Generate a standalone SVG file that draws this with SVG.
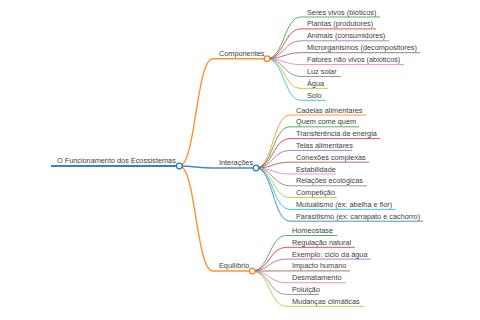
<svg xmlns="http://www.w3.org/2000/svg" width="480" height="320" viewBox="0 0 480 320">
<style>
text{font-family:"Liberation Sans",Arial,sans-serif;font-size:7.3px;fill:#404040}
path,line{fill:none}
.l0{stroke-width:1.8;stroke-opacity:.9}
.l1{stroke-width:1.4;stroke-opacity:.85}
.l2{stroke-width:1;stroke-opacity:.8}
circle{fill:#fff;stroke-width:1.2}
.c0{stroke:#1f77b4}.c1{stroke:#ff7f0e}.c2{stroke:#2ca02c}.c3{stroke:#d62728}.c4{stroke:#9467bd}
.c5{stroke:#8c564b}.c6{stroke:#e377c2}.c7{stroke:#7f7f7f}.c8{stroke:#bcbd22}.c9{stroke:#17becf}
</style>
<rect width="480" height="320" fill="#fff"/>
<g id="connectors">
<path class="l1 c1" d="M179.3,166 C196,166 196,58.7 213,58.7"/>
<path class="l1 c0" d="M179.3,166 C196,166 196,168 213,168"/>
<path class="l1 c1" d="M179.3,166 C196,166 196,271 213,271"/>
<path class="l2 c2" d="M267,58.7 C284,58.7 284,17 301,17"/>
<path class="l2 c3" d="M267,58.7 C284,58.7 284,28.9 301,28.9"/>
<path class="l2 c4" d="M267,58.7 C284,58.7 284,40.8 301,40.8"/>
<path class="l2 c5" d="M267,58.7 C284,58.7 284,52.7 301,52.7"/>
<path class="l2 c6" d="M267,58.7 C284,58.7 284,64.6 301,64.6"/>
<path class="l2 c7" d="M267,58.7 C284,58.7 284,76.5 301,76.5"/>
<path class="l2 c8" d="M267,58.7 C284,58.7 284,88.4 301,88.4"/>
<path class="l2 c9" d="M267,58.7 C284,58.7 284,100.3 301,100.3"/>
<path class="l2 c1" d="M256,168 C273,168 273,115 290,115"/>
<path class="l2 c2" d="M256,168 C273,168 273,126.8 290,126.8"/>
<path class="l2 c3" d="M256,168 C273,168 273,138.6 290,138.6"/>
<path class="l2 c4" d="M256,168 C273,168 273,150.4 290,150.4"/>
<path class="l2 c5" d="M256,168 C273,168 273,162.2 290,162.2"/>
<path class="l2 c6" d="M256,168 C273,168 273,174 290,174"/>
<path class="l2 c7" d="M256,168 C273,168 273,185.8 290,185.8"/>
<path class="l2 c8" d="M256,168 C273,168 273,197.6 290,197.6"/>
<path class="l2 c9" d="M256,168 C273,168 273,209.4 290,209.4"/>
<path class="l2 c0" d="M256,168 C273,168 273,221.2 290,221.2"/>
<path class="l2 c2" d="M252.3,271 C269.3,271 269.3,235.5 286.3,235.5"/>
<path class="l2 c3" d="M252.3,271 C269.3,271 269.3,247.3 286.3,247.3"/>
<path class="l2 c4" d="M252.3,271 C269.3,271 269.3,259.1 286.3,259.1"/>
<path class="l2 c5" d="M252.3,271 C269.3,271 269.3,270.9 286.3,270.9"/>
<path class="l2 c6" d="M252.3,271 C269.3,271 269.3,282.7 286.3,282.7"/>
<path class="l2 c7" d="M252.3,271 C269.3,271 269.3,294.5 286.3,294.5"/>
<path class="l2 c8" d="M252.3,271 C269.3,271 269.3,306.3 286.3,306.3"/>
</g>
<g id="root"><line class="l0 c0" x1="51" y1="166" x2="176.5" y2="166"/><circle class="c0" cx="179.3" cy="166" r="2.8"/><text x="57" y="163">O Funcionamento dos Ecossistemas</text></g>
<g id="componentes"><line class="l1 c1" x1="213" y1="58.7" x2="264.2" y2="58.7"/><circle class="c1" cx="267" cy="58.7" r="2.8"/><text x="219" y="56">Componentes</text></g>
<g id="interacoes"><line class="l1 c0" x1="213" y1="168" x2="253.2" y2="168"/><circle class="c0" cx="256" cy="168" r="2.8"/><text x="219" y="165.3">Interações</text></g>
<g id="equilibrio"><line class="l1 c1" x1="213" y1="271" x2="249.5" y2="271"/><circle class="c1" cx="252.3" cy="271" r="2.8"/><text x="219" y="268.3">Equilíbrio</text></g>
<g id="c-1"><line class="l2 c2" x1="301" y1="17" x2="380" y2="17"/><text x="307" y="14.5">Seres vivos (bióticos)</text></g>
<g id="c-2"><line class="l2 c3" x1="301" y1="28.9" x2="376" y2="28.9"/><text x="307" y="26.4">Plantas (produtores)</text></g>
<g id="c-3"><line class="l2 c4" x1="301" y1="40.8" x2="389" y2="40.8"/><text x="307" y="38.3">Animais (consumidores)</text></g>
<g id="c-4"><line class="l2 c5" x1="301" y1="52.7" x2="420" y2="52.7"/><text x="307" y="50.2">Microrganismos (decompositores)</text></g>
<g id="c-5"><line class="l2 c6" x1="301" y1="64.6" x2="404" y2="64.6"/><text x="307" y="62.1">Fatores não vivos (abióticos)</text></g>
<g id="c-6"><line class="l2 c7" x1="301" y1="76.5" x2="341" y2="76.5"/><text x="307" y="74">Luz solar</text></g>
<g id="c-7"><line class="l2 c8" x1="301" y1="88.4" x2="328" y2="88.4"/><text x="307" y="85.9">Água</text></g>
<g id="c-8"><line class="l2 c9" x1="301" y1="100.3" x2="326" y2="100.3"/><text x="307" y="97.8">Solo</text></g>
<g id="i-1"><line class="l2 c1" x1="290" y1="115" x2="366" y2="115"/><text x="296" y="112.5">Cadeias alimentares</text></g>
<g id="i-2"><line class="l2 c2" x1="290" y1="126.8" x2="359" y2="126.8"/><text x="296" y="124.3">Quem come quem</text></g>
<g id="i-3"><line class="l2 c3" x1="290" y1="138.6" x2="380" y2="138.6"/><text x="296" y="136.1">Transferência de energia</text></g>
<g id="i-4"><line class="l2 c4" x1="290" y1="150.4" x2="352" y2="150.4"/><text x="296" y="147.9">Teias alimentares</text></g>
<g id="i-5"><line class="l2 c5" x1="290" y1="162.2" x2="369" y2="162.2"/><text x="296" y="159.7">Conexões complexas</text></g>
<g id="i-6"><line class="l2 c6" x1="290" y1="174" x2="336" y2="174"/><text x="296" y="171.5">Estabilidade</text></g>
<g id="i-7"><line class="l2 c7" x1="290" y1="185.8" x2="367" y2="185.8"/><text x="296" y="183.3">Relações ecológicas</text></g>
<g id="i-8"><line class="l2 c8" x1="290" y1="197.6" x2="337" y2="197.6"/><text x="296" y="195.1">Competição</text></g>
<g id="i-9"><line class="l2 c9" x1="290" y1="209.4" x2="396" y2="209.4"/><text x="296" y="206.9">Mutualismo (ex: abelha e flor)</text></g>
<g id="i-10"><line class="l2 c0" x1="290" y1="221.2" x2="423" y2="221.2"/><text x="296" y="218.7">Parasitismo (ex: carrapato e cachorro)</text></g>
<g id="e-1"><line class="l2 c2" x1="286.3" y1="235.5" x2="337" y2="235.5"/><text x="292" y="233">Homeostase</text></g>
<g id="e-2"><line class="l2 c3" x1="286.3" y1="247.3" x2="355" y2="247.3"/><text x="292" y="244.8">Regulação natural</text></g>
<g id="e-3"><line class="l2 c4" x1="286.3" y1="259.1" x2="371" y2="259.1"/><text x="292" y="256.6">Exemplo: ciclo da água</text></g>
<g id="e-4"><line class="l2 c5" x1="286.3" y1="270.9" x2="350" y2="270.9"/><text x="292" y="268.4">Impacto humano</text></g>
<g id="e-5"><line class="l2 c6" x1="286.3" y1="282.7" x2="346" y2="282.7"/><text x="292" y="280.2">Desmatamento</text></g>
<g id="e-6"><line class="l2 c7" x1="286.3" y1="294.5" x2="319" y2="294.5"/><text x="292" y="292">Poluição</text></g>
<g id="e-7"><line class="l2 c8" x1="286.3" y1="306.3" x2="364" y2="306.3"/><text x="292" y="303.8">Mudanças climáticas</text></g>
</svg>
